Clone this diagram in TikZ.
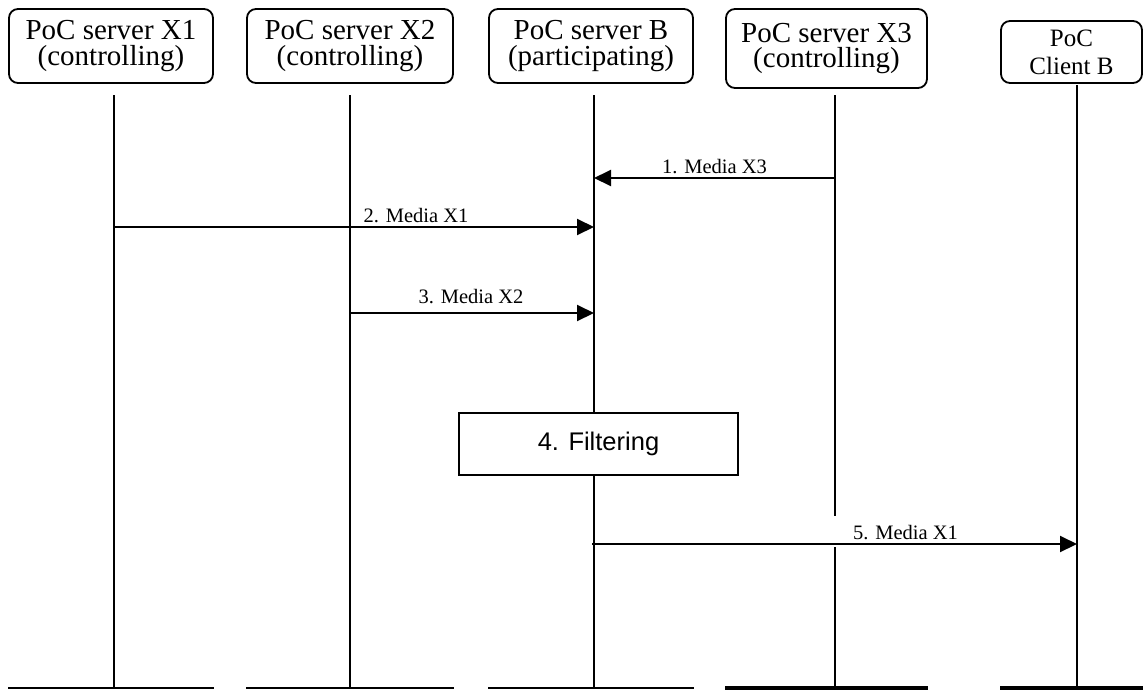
\documentclass[tikz,border=0pt]{standalone}
\usepackage{fontspec}
\setmainfont{Liberation Serif}
\newfontfamily\sansf{Liberation Sans}
\usetikzlibrary{arrows.meta}
\begin{document}
\begin{tikzpicture}[x=1pt,y=-1pt,
  hdr/.style={draw, rounded corners=9pt, line width=1.8pt, align=center, inner sep=0pt, font=\fontsize{29}{25.5}\selectfont},
  life/.style={line width=1.8pt},
  msg/.style={line width=2pt, -{Triangle[length=17pt,width=16pt]}},
  lbl/.style={anchor=base, font=\fontsize{20.5}{24}\selectfont, inner sep=0pt},
  basethin/.style={line width=2.5pt},
  basethick/.style={line width=4pt},
  actbox/.style={draw, fill=white, line width=1.8pt, inner sep=0pt, font=\sansf\fontsize{25.5}{30}\selectfont}]
\useasboundingbox (0,0) rectangle (1143,691);

% header boxes
\node[hdr, minimum width=204pt, minimum height=74pt] (x1) at (111,46) {PoC server X1\\(controlling)};
\node[hdr, minimum width=206pt, minimum height=74pt] (x2) at (350,46) {PoC server X2\\(controlling)};
\node[hdr, minimum width=204pt, minimum height=74pt] (sb) at (591,46) {PoC server B\\(participating)};
\node[hdr, minimum width=201pt, minimum height=79pt] (x3) at (826.5,48.5) {PoC server X3\\(controlling)};
\node[hdr, minimum width=141pt, minimum height=62pt, font=\fontsize{25}{28}\selectfont] (cb) at (1071.5,52) {PoC\\Client B};

% lifeline coordinates
\coordinate (x1t) at (114,95);  \coordinate (x1b) at (114,688);
\coordinate (x2t) at (350,95);  \coordinate (x2b) at (350,688);
\coordinate (sbt) at (594,95);  \coordinate (sbb) at (594,688);
\coordinate (x3t) at (835,95);  \coordinate (x3u) at (835,516);
\coordinate (x3v) at (835,547); \coordinate (x3b) at (835,688);
\coordinate (cbt) at (1077,85); \coordinate (cbb) at (1077,688);

\draw[life] (x1t) -- (x1b);
\draw[life] (x2t) -- (x2b);
\draw[life] (sbt) -- (sbb);
\draw[life] (x3t) -- (x3u);
\draw[life] (x3v) -- (x3b);
\draw[life] (cbt) -- (cbb);

% bottom bars
\draw[basethin] (x1.west |- x1b) -- (x1.east |- x1b);
\draw[basethin] (x2.west |- x2b) -- (x2.east |- x2b);
\draw[basethin] (sb.west |- sbb) -- (sb.east |- sbb);
\draw[basethick] (x3.west |- x3b) -- (x3.east |- x3b);
\draw[basethick] (cb.west |- cbb) -- (1143,688);

% messages
\coordinate (m1s) at (835,178); \coordinate (m1e) at (594,178);
\draw[msg] (m1s) -- (m1e);
\node[lbl] (l1) at (714.5,173) {1. Media X3};

\coordinate (m2s) at (114,227); \coordinate (m2e) at (594,227);
\draw[msg] (m2s) -- (m2e);
\node[lbl] (l2) at (416,222) {2. Media X1};

\coordinate (m3s) at (350,313); \coordinate (m3e) at (594,313);
\draw[msg] (m3s) -- (m3e);
\node[lbl] (l3) at (471,303) {3. Media X2};

% filtering
\node[actbox, minimum width=279pt, minimum height=62pt] (flt) at (598.5,444) {4. Filtering};

\coordinate (m5s) at (592,544); \coordinate (m5e) at (1077,544);
\draw[msg] (m5s) -- (m5e);
\node[lbl] (l5) at (905.5,539) {5. Media X1};
\end{tikzpicture}
\end{document}
